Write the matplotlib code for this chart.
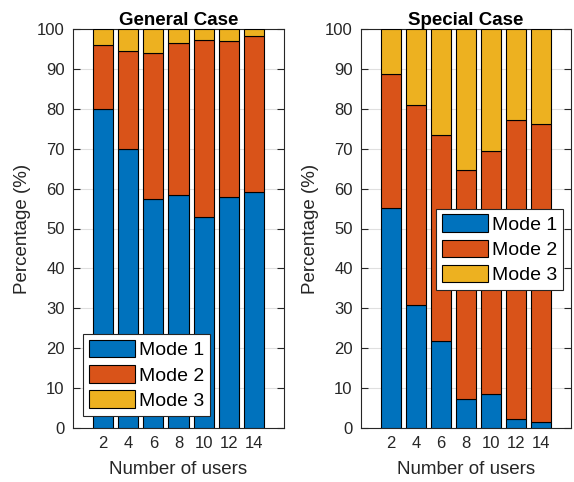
import matplotlib
matplotlib.use("Agg")
import matplotlib.pyplot as plt
import numpy as np

users = [2, 4, 6, 8, 10, 12, 14]

# General case (percent per mode)
gen_mode1 = [80.0, 69.8, 57.5, 58.3, 52.9, 58.0, 59.2]
gen_mode2 = [16.0, 24.6, 36.4, 38.1, 44.3, 39.0, 39.0]
gen_mode3 = [4.0, 5.6, 6.1, 3.6, 2.8, 3.0, 1.8]

# Special case
spe_mode1 = [55.2, 30.8, 21.8, 7.2, 8.6, 2.2, 1.6]
spe_mode2 = [33.5, 50.2, 51.7, 57.5, 60.9, 75.1, 74.6]
spe_mode3 = [11.3, 19.0, 26.5, 35.3, 30.5, 22.7, 23.8]

labels = ["Mode 1", "Mode 2", "Mode 3"]
colors = ["#0072BD", "#D95319", "#EDB120"]
dark = "#262626"

plt.rcParams["font.family"] = ["Liberation Sans", "DejaVu Sans"]

fig = plt.figure(figsize=(5.74, 4.82), dpi=100)
ax1 = fig.add_axes([73 / 574, 54 / 482, 211 / 574, 399 / 482])
ax2 = fig.add_axes([361 / 574, 54 / 482, 210 / 574, 399 / 482])


def draw(ax, m1, m2, m3, title, leg_anchor):
    bottom = np.zeros(len(users))
    for vals, c, lab in zip([m1, m2, m3], colors, labels):
        ax.bar(users, vals, width=1.6, bottom=bottom, color=c,
               edgecolor="black", linewidth=0.8, label=lab, zorder=3)
        bottom = bottom + np.array(vals)
    ax.set_xlim(-0.4, 16.4)
    ax.set_ylim(0, 100)
    ax.set_xticks(users)
    ax.set_yticks(range(0, 101, 10))
    ax.yaxis.grid(True, color="#dfdfdf", linewidth=0.8, zorder=0)
    ax.set_axisbelow(True)
    ax.tick_params(direction="in", length=5, width=0.8, top=True, right=True,
                   labelsize=12, colors=dark, pad=6)
    for s in ax.spines.values():
        s.set_color(dark)
        s.set_linewidth(0.8)
    ax.set_title(title, fontsize=13.5, fontweight="bold", pad=3)
    ax.set_xlabel("Number of users", fontsize=13.5, color=dark, labelpad=7)
    ax.set_ylabel("Percentage (%)", fontsize=13.5, color=dark, labelpad=4)
    leg = ax.legend(loc="lower left", bbox_to_anchor=leg_anchor, fontsize=14,
                    handlelength=2.4, handleheight=1.0, labelspacing=0.3,
                    handletextpad=0.2, borderpad=0.3, borderaxespad=0,
                    fancybox=False, framealpha=1, edgecolor=dark)
    leg.get_frame().set_linewidth(0.8)


draw(ax1, gen_mode1, gen_mode2, gen_mode3, "General Case", (0.046, 0.031))
draw(ax2, spe_mode1, spe_mode2, spe_mode3, "Special Case", (0.356, 0.346))

fig.savefig("out.png", dpi=100)
